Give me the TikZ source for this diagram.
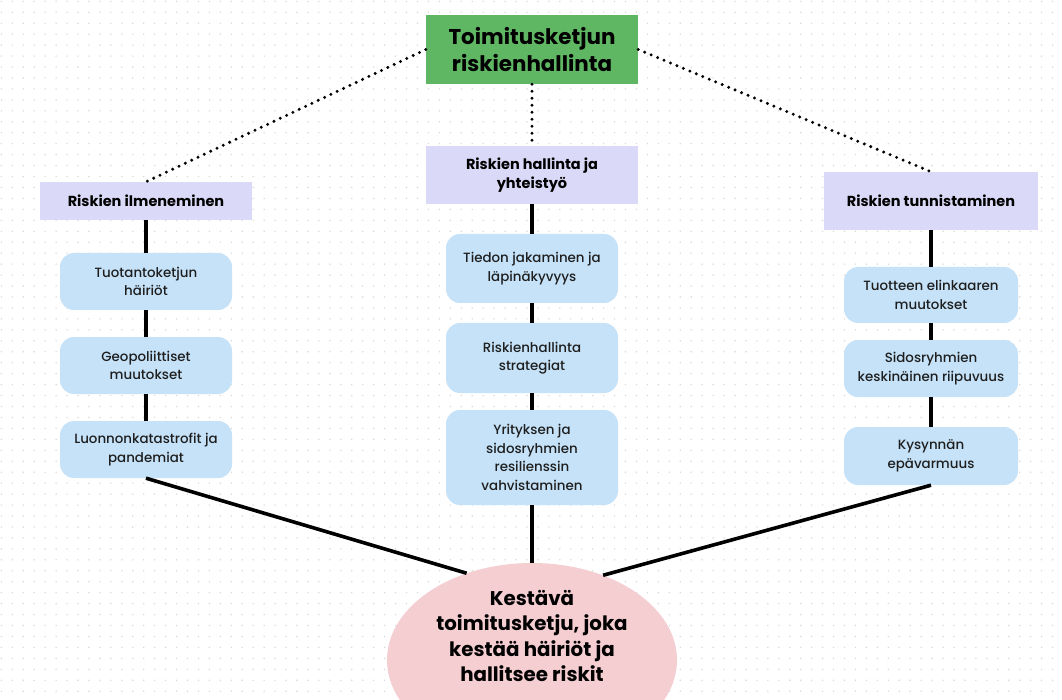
\documentclass[tikz,border=0pt]{standalone}
\usepackage{fontspec}
\setmainfont{Poppins}
\newfontfamily\pmed{Poppins Medium}
\usetikzlibrary{shapes.geometric}
\definecolor{titlegreen}{HTML}{5FB763}
\definecolor{lavfill}{HTML}{DADAF8}
\definecolor{bluefill}{HTML}{C5E2F8}
\definecolor{pinkfill}{HTML}{F5CED2}
\definecolor{gridgray}{HTML}{D8D8D8}
\definecolor{txtgray}{HTML}{1E1E1E}
\tikzset{
  titlebox/.style={draw=none, fill=titlegreen, minimum width=212pt, minimum height=69pt, align=center, font=\fontsize{21.4}{26.5}\selectfont\bfseries, text=black, inner sep=0pt},
  lavbox/.style={draw=none, fill=lavfill, minimum width=212pt, align=center, font=\fontsize{14.5}{19}\selectfont\bfseries, text=black, inner sep=0pt},
  bluebox/.style={draw=none, fill=bluefill, rounded corners=14pt, minimum width=172pt, align=center, font=\pmed\fontsize{13.4}{18.5}\selectfont, text=txtgray, inner sep=0pt},
  goalell/.style={ellipse, draw=none, fill=pinkfill, minimum width=290pt, minimum height=194pt, inner sep=0pt},
  goaltxt/.style={align=center, font=\fontsize{19.8}{25.5}\selectfont\bfseries, text=black, inner sep=0pt},
  conn/.style={line width=3.6pt, black},
  dotconn/.style={line width=3.3pt, black, line cap=round, dash pattern=on 0pt off 7pt},
}
\begin{document}
\begin{tikzpicture}[x=1pt, y=-1pt]
\useasboundingbox (0,0) rectangle (1062,700);
\fill[white] (0,0) rectangle (1062,700);
\foreach \i in {0,...,96} {
  \foreach \j in {0,...,63} {
    \fill[gridgray] ({1.35+\i*10.95},{1.35+\j*10.95}) circle (0.8);
  }
}
\node[titlebox] (title) at (532,49.5) {Toimitusketjun\\riskienhallinta};
\node[lavbox, minimum height=58pt] (midlav) at (532,175) {Riskien hallinta ja\\yhteistyö};
\node[lavbox, minimum height=38pt] (leftlav) at (146,201) {Riskien ilmeneminen};
\node[lavbox, minimum width=214pt, minimum height=58pt] (rightlav) at (931,201) {Riskien tunnistaminen};

\node[bluebox, minimum height=57pt] (l1) at (146,281.5) {Tuotantoketjun\\häiriöt};
\node[bluebox, minimum height=57pt] (l2) at (146,365.5) {Geopoliittiset\\muutokset};
\node[bluebox, minimum height=57pt] (l3) at (146,449.5) {Luonnonkatastrofit ja\\pandemiat};

\node[bluebox, minimum height=69pt] (m1) at (532,268.5) {Tiedon jakaminen ja\\läpinäkyvyys};
\node[bluebox, minimum height=70pt] (m2) at (532,358) {Riskienhallinta\\strategiat};
\node[bluebox, minimum height=95pt] (m3) at (532,457.5) {Yrityksen ja\\sidosryhmien\\resilienssin\\vahvistaminen};

\node[bluebox, minimum width=174pt, minimum height=56pt] (r1) at (931,295) {Tuotteen elinkaaren\\muutokset};
\node[bluebox, minimum width=174pt, minimum height=57pt] (r2) at (931,368.5) {Sidosryhmien\\keskinäinen riipuvuus};
\node[bluebox, minimum width=174pt, minimum height=58pt] (r3) at (931,456) {Kysynnän\\epävarmuus};

\node[goalell] (goal) at (532,660) {};
\node[goaltxt] (goaltext) at (532,636) {Kestävä\\toimitusketju, joka\\kestää häiriöt ja\\hallitsee riskit};

\draw[dotconn] (title.west) -- (leftlav.north);
\draw[dotconn] (title.east) -- (rightlav.north);
\draw[dotconn] (title.south) -- (midlav.north);

\draw[conn] (leftlav.south) -- (l1.north);
\draw[conn] (l1.south) -- (l2.north);
\draw[conn] (l2.south) -- (l3.north);
\draw[conn] (midlav.south) -- (m1.north);
\draw[conn] (m1.south) -- (m2.north);
\draw[conn] (m2.south) -- (m3.north);
\draw[conn] (rightlav.south) -- (r1.north);
\draw[conn] (r1.south) -- (r2.north);
\draw[conn] (r2.south) -- (r3.north);

\draw[conn] (l3.south) -- (goal.127);
\draw[conn] (m3.south) -- (goal.north);
\draw[conn] (r3.south) -- (goal.50);
\end{tikzpicture}
\end{document}
